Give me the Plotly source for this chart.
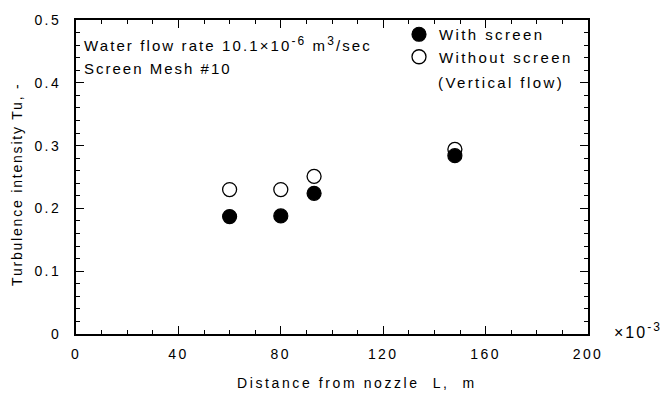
import plotly.graph_objects as go

# Data
dist_with = [60, 80, 93, 148]
tu_with = [0.187, 0.188, 0.224, 0.284]
dist_without = [60, 80, 93, 148]
tu_without = [0.230, 0.230, 0.251, 0.294]

x_ticks = [0, 40, 80, 120, 160, 200]
x_ticklabels = ["0", "40", "80", "120", "160", "200"]
y_ticks = [0, 0.1, 0.2, 0.3, 0.4, 0.5]
y_ticklabels = ["0", "0.1", "0.2", "0.3", "0.4", "0.5"]

FONT = "Liberation Sans, Arial, sans-serif"
SP = 2.4


def ls(t, sp=SP):
    return f'<span style="letter-spacing:{sp}px">{t}</span>'


def sup(t, px=12):
    return f'<sup><span style="font-size:{px}px">{t}</span></sup>'


fig = go.Figure()
fig.add_trace(go.Scatter(
    x=dist_without, y=tu_without, mode="markers",
    name=ls("Without screen"),
    marker=dict(symbol="circle-open", size=14, color="black", line=dict(color="black", width=1.3)),
))
fig.add_trace(go.Scatter(
    x=dist_with, y=tu_with, mode="markers", name=ls("With screen"),
    marker=dict(symbol="circle", size=14, color="black", line=dict(color="black", width=1.2)),
))

axis_common = dict(
    showline=True, linecolor="black", linewidth=2.2, mirror="ticks",
    ticks="inside", ticklen=8, tickwidth=1.3, tickcolor="black",
    showgrid=False, zeroline=False,
    tickfont=dict(family=FONT, size=14, color="black"),
)

fig.update_xaxes(
    range=[0, 200], tickvals=x_ticks, ticktext=[ls(t) for t in x_ticklabels],
    minor=dict(ticks="inside", ticklen=4, tickwidth=1.2, tickcolor="black", dtick=10, showgrid=False),
    ticklabelstandoff=6,
    **axis_common,
)
fig.update_yaxes(
    range=[0, 0.5], tickvals=y_ticks, ticktext=[ls(t) for t in y_ticklabels],
    minor=dict(ticks="inside", ticklen=4, tickwidth=1.2, tickcolor="black", dtick=0.02, showgrid=False),
    ticklabelstandoff=10,
    **axis_common,
)

# axis titles
fig.add_annotation(
    x=(357 - 76) / 512, y=-(383 - 334) / 316, xref="paper", yref="paper",
    xanchor="center", yanchor="middle", showarrow=False,
    text=ls("Distance from nozzle  L,  m", 2.6),
    font=dict(family=FONT, size=14, color="black"),
)
fig.add_annotation(
    x=-(76 - 17) / 512, y=(334 - 184) / 316, xref="paper", yref="paper",
    xanchor="center", yanchor="middle", showarrow=False, textangle=-90,
    text=ls("Turbulence intensity Tu, -", 1.8),
    font=dict(family=FONT, size=14, color="black"),
)

# inset notes
fig.add_annotation(
    x=(82 - 76) / 512, y=(334 - 42) / 316, xref="paper", yref="paper",
    xanchor="left", yanchor="middle", showarrow=False, align="left",
    text=ls("Water flow rate 10.1×10" + sup("-6") + " m" + sup("3") + "/sec", 2.1),
    font=dict(family=FONT, size=15, color="black"),
)
fig.add_annotation(
    x=(82 - 76) / 512, y=(334 - 67) / 316, xref="paper", yref="paper",
    xanchor="left", yanchor="middle", showarrow=False, align="left",
    text=ls("Screen Mesh #10", 2.0),
    font=dict(family=FONT, size=15, color="black"),
)
fig.add_annotation(
    x=(612 - 76) / 512, y=(334 - 330) / 316, xref="paper", yref="paper",
    xanchor="left", yanchor="middle", showarrow=False,
    text=ls("×10" + sup("-3"), 2.0),
    font=dict(family=FONT, size=16, color="black"),
)
fig.add_annotation(
    x=(436 - 76) / 512, y=(334 - 81) / 316, xref="paper", yref="paper",
    xanchor="left", yanchor="middle", showarrow=False,
    text=ls("(Vertical flow)"),
    font=dict(family=FONT, size=15, color="black"),
)

fig.update_layout(
    width=664, height=394,
    margin=dict(l=76, r=76, t=18, b=60),
    paper_bgcolor="white", plot_bgcolor="white",
    showlegend=True,
    legend=dict(
        x=(399 - 76) / 512, y=(334 - 16) / 316, xanchor="left", yanchor="top",
        bgcolor="rgba(0,0,0,0)", traceorder="reversed", valign="middle",
        font=dict(family=FONT, size=15, color="black"),
        itemwidth=30, tracegroupgap=0,
    ),
)

fig.write_html("out.html")
